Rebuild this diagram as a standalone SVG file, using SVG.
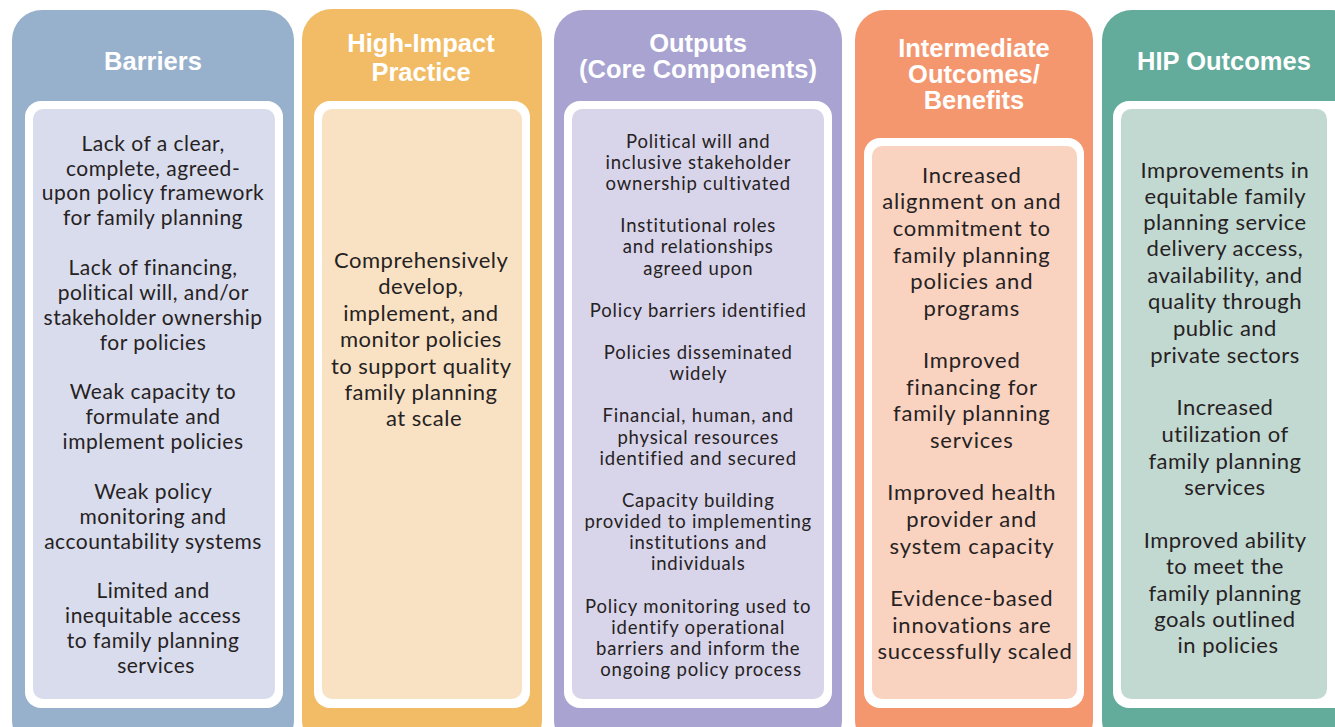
<svg xmlns="http://www.w3.org/2000/svg" width="1335" height="727" viewBox="0 0 1335 727">
  <style>
    .head { font-family: "Liberation Sans", Arial, sans-serif; font-weight: bold; font-size: 25.5px; fill: #ffffff; text-anchor: middle; }
    .body { font-family: Lato, "Liberation Sans", sans-serif; fill: #262223; text-anchor: middle; }
    .b21 { font-size: 21px; letter-spacing: 0.5px; }
    .b22 { font-size: 22px; letter-spacing: 0.5px; }
    .b22w { font-size: 22px; letter-spacing: 0.8px; }
    .b19 { font-size: 18.5px; letter-spacing: 0.8px; }
    .frame { fill: #ffffff; }
  </style>
  <rect width="1335" height="727" fill="#ffffff"/>

  <!-- Barriers -->
  <g id="barriers">
    <rect x="12" y="10" width="282" height="740" rx="30" fill="#97b1cc"/>
    <rect class="frame" x="25" y="101" width="258" height="607" rx="16"/>
    <rect x="33" y="109" width="242" height="590" rx="10" fill="#d9dcec"/>
    <text class="head" x="153" y="70">Barriers</text>
    <text class="body b21">
      <tspan x="156" y="151">Lack of a clear,</tspan>
      <tspan x="156" y="176">complete, agreed-</tspan>
      <tspan x="156" y="200">upon policy framework</tspan>
      <tspan x="156" y="225">for family planning</tspan>
      <tspan x="156" y="275">Lack of financing,</tspan>
      <tspan x="156" y="300">political will, and/or</tspan>
      <tspan x="156" y="325">stakeholder ownership</tspan>
      <tspan x="156" y="350">for policies</tspan>
      <tspan x="156" y="399">Weak capacity to</tspan>
      <tspan x="156" y="424">formulate and</tspan>
      <tspan x="156" y="449">implement policies</tspan>
      <tspan x="156" y="499">Weak policy</tspan>
      <tspan x="156" y="524">monitoring and</tspan>
      <tspan x="156" y="549">accountability systems</tspan>
      <tspan x="156" y="598">Limited and</tspan>
      <tspan x="156" y="623">inequitable access</tspan>
      <tspan x="156" y="648">to family planning</tspan>
      <tspan x="156" y="673">services</tspan>
    </text>
  </g>

  <!-- High-Impact Practice -->
  <g id="practice">
    <rect x="302" y="9" width="240" height="741" rx="30" fill="#f2bc66"/>
    <rect class="frame" x="314" y="101" width="216" height="607" rx="16"/>
    <rect x="322" y="109" width="200" height="590" rx="10" fill="#f9e2c4"/>
    <text class="head" x="421" y="52">High-Impact</text>
    <text class="head" x="421" y="81">Practice</text>
    <text class="body b22">
      <tspan x="424" y="268">Comprehensively</tspan>
      <tspan x="424" y="294">develop,</tspan>
      <tspan x="424" y="321">implement, and</tspan>
      <tspan x="424" y="347">monitor policies</tspan>
      <tspan x="424" y="374">to support quality</tspan>
      <tspan x="424" y="400">family planning</tspan>
      <tspan x="424" y="426">at scale</tspan>
    </text>
  </g>

  <!-- Outputs (Core Components) -->
  <g id="outputs">
    <rect x="554" y="10" width="288" height="740" rx="30" fill="#a8a3d1"/>
    <rect class="frame" x="564" y="101" width="268" height="607" rx="16"/>
    <rect x="572" y="109" width="252" height="590" rx="10" fill="#d8d5ea"/>
    <text class="head" x="698" y="52">Outputs</text>
    <text class="head" x="698" y="78">(Core Components)</text>
    <text class="body b19">
      <tspan x="701" y="148">Political will and</tspan>
      <tspan x="701" y="169">inclusive stakeholder</tspan>
      <tspan x="701" y="190">ownership cultivated</tspan>
      <tspan x="701" y="232">Institutional roles</tspan>
      <tspan x="701" y="253">and relationships</tspan>
      <tspan x="701" y="275">agreed upon</tspan>
      <tspan x="701" y="317">Policy barriers identified</tspan>
      <tspan x="701" y="359">Policies disseminated</tspan>
      <tspan x="701" y="380">widely</tspan>
      <tspan x="701" y="422">Financial, human, and</tspan>
      <tspan x="701" y="444">physical resources</tspan>
      <tspan x="701" y="465">identified and secured</tspan>
      <tspan x="701" y="507">Capacity building</tspan>
      <tspan x="701" y="528">provided to implementing</tspan>
      <tspan x="701" y="549">institutions and</tspan>
      <tspan x="701" y="570">individuals</tspan>
      <tspan x="701" y="613">Policy monitoring used to</tspan>
      <tspan x="701" y="634">identify operational</tspan>
      <tspan x="701" y="655">barriers and inform the</tspan>
      <tspan x="701" y="676">ongoing policy process</tspan>
    </text>
  </g>

  <!-- Intermediate Outcomes/Benefits -->
  <g id="intermediate">
    <rect x="855" y="10" width="238" height="740" rx="30" fill="#f4976f"/>
    <rect class="frame" x="864" y="138" width="220" height="570" rx="16"/>
    <rect x="872" y="146" width="205" height="553" rx="10" fill="#f9d3c0"/>
    <text class="head" x="974" y="57">Intermediate</text>
    <text class="head" x="974" y="83">Outcomes/</text>
    <text class="head" x="974" y="109">Benefits</text>
    <text class="body b22w">
      <tspan x="975" y="183">Increased</tspan>
      <tspan x="975" y="209">alignment on and</tspan>
      <tspan x="975" y="236">commitment to</tspan>
      <tspan x="975" y="263">family planning</tspan>
      <tspan x="975" y="289">policies and</tspan>
      <tspan x="975" y="316">programs</tspan>
      <tspan x="975" y="368">Improved</tspan>
      <tspan x="975" y="395">financing for</tspan>
      <tspan x="975" y="421">family planning</tspan>
      <tspan x="975" y="448">services</tspan>
      <tspan x="975" y="500">Improved health</tspan>
      <tspan x="975" y="527">provider and</tspan>
      <tspan x="975" y="554">system capacity</tspan>
      <tspan x="975" y="606">Evidence-based</tspan>
      <tspan x="975" y="633">innovations are</tspan>
      <tspan x="975" y="659">successfully scaled</tspan>
    </text>
  </g>

  <!-- HIP Outcomes -->
  <g id="hip-outcomes">
    <rect x="1102" y="10" width="260" height="740" rx="30" fill="#63ab9b"/>
    <rect class="frame" x="1113" y="101" width="250" height="607" rx="16"/>
    <rect x="1121" y="109" width="206" height="590" rx="10" fill="#c2d9d2"/>
    <text class="head" x="1224" y="70">HIP Outcomes</text>
    <text class="body b22">
      <tspan x="1228" y="178">Improvements in</tspan>
      <tspan x="1228" y="204">equitable family</tspan>
      <tspan x="1228" y="230">planning service</tspan>
      <tspan x="1228" y="256">delivery access,</tspan>
      <tspan x="1228" y="283">availability, and</tspan>
      <tspan x="1228" y="309">quality through</tspan>
      <tspan x="1228" y="336">public and</tspan>
      <tspan x="1228" y="363">private sectors</tspan>
      <tspan x="1228" y="415">Increased</tspan>
      <tspan x="1228" y="442">utilization of</tspan>
      <tspan x="1228" y="469">family planning</tspan>
      <tspan x="1228" y="495">services</tspan>
      <tspan x="1228" y="548">Improved ability</tspan>
      <tspan x="1228" y="574">to meet the</tspan>
      <tspan x="1228" y="601">family planning</tspan>
      <tspan x="1228" y="627">goals outlined</tspan>
      <tspan x="1228" y="653">in policies</tspan>
    </text>
  </g>
</svg>
